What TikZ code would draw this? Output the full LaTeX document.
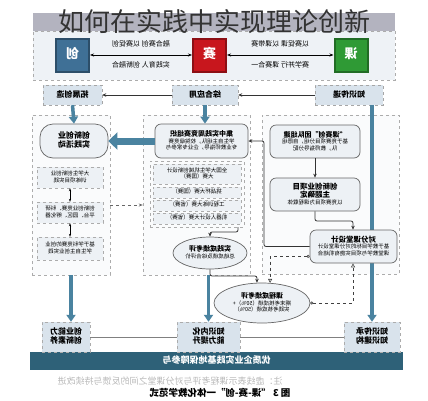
\documentclass[tikz,border=0pt]{standalone}
\usepackage{fontspec}
\setmainfont{Noto Sans CJK SC}
\usepackage{graphicx}
\usepackage{xcolor}
\usetikzlibrary{positioning,arrows.meta,shapes.geometric,calc}
\definecolor{tealA}{HTML}{4A83A0}
\definecolor{tealB}{HTML}{2E6178}
\definecolor{hdrfill}{HTML}{D9E3EC}
\definecolor{subfill}{HTML}{EDF1F5}
\definecolor{grpfill}{HTML}{FAFBFC}
\definecolor{topfill}{HTML}{EEF2F6}
\definecolor{sqblue}{HTML}{3F7096}
\definecolor{sqred}{HTML}{C8161D}
\definecolor{sqgreen}{HTML}{2F9A35}
\renewcommand{\arraystretch}{0.9}
% mirrored text, as the picture prints it
\newcommand{\mir}[1]{\reflectbox{\begin{tabular}{@{}c@{}}#1\end{tabular}}}
\tikzset{
  hdr/.style={draw=gray!70,dashed,fill=hdrfill,minimum height=20pt,inner sep=0pt,font=\fontsize{8}{9}\selectfont\bfseries},
  grp/.style={draw=gray!65,dashed,fill=grpfill,inner sep=0pt},
  pill/.style={draw=gray!80!black,fill=subfill,rounded corners=6pt,line width=0.7pt,inner sep=0pt,font=\fontsize{5.5}{6.5}\selectfont},
  sub/.style={draw=gray!65,dashed,fill=subfill,inner sep=0pt,font=\fontsize{5.5}{6.5}\selectfont},
  ell/.style={ellipse,draw=gray!80!black,fill=subfill,line width=0.7pt,inner sep=0pt,font=\fontsize{5.5}{6.5}\selectfont},
  sq/.style={minimum size=33pt,inner sep=0pt,line width=2pt,font=\fontsize{13}{13}\selectfont\bfseries,text=white},
  bot/.style={draw=gray!65,dashed,fill=hdrfill,minimum height=30pt,inner sep=0pt,font=\fontsize{8}{9.5}\selectfont\bfseries},
  conn/.style={draw=black!80,line width=0.8pt,rounded corners=2pt,-{Stealth[length=4pt,width=3.5pt]}},
  fb/.style={draw=black!75,dashed,line width=0.6pt,{Circle[open,length=3pt,width=3pt]}-{Triangle[open,length=4pt,width=4pt]}},
  tealarr/.style={draw=tealA,line width=3.5pt,-{Triangle[length=7pt,width=9pt]}},
}
\begin{document}
\begin{tikzpicture}[x=1pt,y=-1pt,>=Stealth]
  \useasboundingbox (0,0) rectangle (428,400);
  \fill[white] (0,0) rectangle (428,400);
  % top band
  \node[fill=gray!45!blue!15!gray!55,minimum width=362pt,minimum height=18pt,inner sep=0pt] (band) at (214,22) {};
  \node[draw=gray!65,dashed,fill=topfill,minimum width=362pt,minimum height=49pt,inner sep=0pt] (top) at (214,55.5) {};
  \node[font=\fontsize{26}{26}\selectfont,text=black!80] (title) at (214,22) {如何在实践中实现理论创新};
  \node[sq,fill=sqblue,draw=sqblue!70!black] (chuang) at (72.5,55) {\mir{创}};
  \node[sq,fill=sqred,draw=sqred!70!black] (sai) at (209.5,55) {\mir{赛}};
  \node[sq,fill=sqgreen,draw=sqgreen!70!black] (ke) at (351,55) {\mir{课}};
  \draw[{Stealth[length=4pt]}-{Stealth[length=4pt]},line width=0.8pt] (chuang) -- (sai)
    node[midway,above=3pt,font=\fontsize{7}{8}\selectfont] {\mir{融合赛创 以赛促创}}
    node[midway,below=3pt,font=\fontsize{7}{8}\selectfont] {\mir{实践育人 创新融合}};
  \draw[{Stealth[length=4pt]}-{Stealth[length=4pt]},line width=0.8pt] (sai) -- (ke)
    node[midway,above=3pt,font=\fontsize{7}{8}\selectfont] {\mir{以赛促课 以课带赛}}
    node[midway,below=3pt,font=\fontsize{7}{8}\selectfont] {\mir{赛学并行 课赛合一}};

  % column headers
  \node[hdr,minimum width=59pt] (hL) at (72.5,95) {\mir{拓展创造}};
  \node[hdr,minimum width=66pt] (hM) at (205,95) {\mir{综合应用}};
  \node[hdr,minimum width=68pt] (hR) at (349,95) {\mir{知识传递}};
  \draw[conn] (hR) -- (hM);
  \draw[conn] (hM) -- (hL);

  % column groups
  \node[grp,minimum width=78pt,minimum height=160pt] (grpL) at (71,195) {};
  \node[grp,minimum width=107pt,minimum height=160pt] (grpM) at (196.5,195) {};
  \node[grp,minimum width=137pt,minimum height=159pt] (grpR) at (330.5,194.5) {};

  % bottom row
  \node[fill=tealB,minimum width=373pt,minimum height=18pt,inner sep=0pt,text=white,font=\fontsize{9}{10}\selectfont\bfseries] (bar) at (216.5,361) {\mir{优质企业实践基地保障参与}};
  \node[bot,minimum width=48pt] (botL) at (66,337) {\mir{创业能力\\创新素养}};
  \node[bot,minimum width=63pt] (botM) at (208.5,337) {\mir{知识内化\\能力提升}};
  \node[bot,minimum width=56pt] (botR) at (372,337) {\mir{知识传承\\知识建构}};
  \draw[gray,line width=0.6pt] (botL) -- (botM);
  \draw[gray,line width=0.6pt] (botM) -- (botR);

  \draw[tealarr] (grpL.south) -- (grpL.south |- botL.north);
  \draw[tealarr] (botM.north |- grpM.south) -- (botM.north);
  \draw[tealarr] (hR.south -| botR.north) -- (botR.north);

  % left column
  \node[pill,rounded corners=13pt,minimum width=68pt,minimum height=34pt,font=\fontsize{8}{9.5}\selectfont\bfseries] (pillL) at (74,141) {\mir{创新创业\\实践活动}};
  \node[sub,minimum width=66pt,minimum height=21pt] (subL1) at (70,177.5) {\mir{大学生创新创业\\训练项目实践}};
  \node[sub,minimum width=66pt,minimum height=21pt] (subL2) at (70,212.5) {\mir{创新创业竞赛、科研\\平台、园区、孵化器}};
  \node[sub,minimum width=66pt,minimum height=23pt] (subL3) at (70,248.5) {\mir{基于学科竞赛的创业\\学生自主创业实践}};
  \draw[{Stealth[length=3pt]}-{Stealth[length=3pt]},line width=0.8pt] (subL1) -- (subL2);
  \draw[{Stealth[length=3pt]}-{Stealth[length=3pt]},line width=0.8pt] (subL2) -- (subL3);
  \draw[tealarr] (hL.south) -- (pillL.north);

  % middle column
  \node[pill,minimum width=93pt,minimum height=34pt] (pillM) at (201.5,141)
    {\mir{\fontsize{7}{8}\selectfont\bfseries 集中实践周竞赛组织\\学生自主组队，校院级竞赛\\专业教师指导，企业专家参与}};
  \node[grp,minimum width=94pt,minimum height=66pt] (subsM) at (197,194) {};
  \node[sub,minimum width=88pt,minimum height=20pt] (subM1) at (197,174) {\mir{全国大学生机械创新设计\\大赛（国赛）}};
  \node[sub,minimum width=88pt,minimum height=11pt] (subM2) at (197,192.5) {\mir{挑战杯大赛（国赛）}};
  \node[sub,minimum width=88pt,minimum height=11pt] (subM3) at (197,205.5) {\mir{工程训练大赛（省赛）}};
  \node[sub,minimum width=88pt,minimum height=11pt] (subM4) at (197,218.5) {\mir{机器人设计大赛（省赛）}};
  \node[ell,minimum width=74pt,minimum height=32pt] (ellM) at (210,253)
    {\mir{\fontsize{7}{8}\selectfont\bfseries 实践成绩考评\\总结成绩及综合评价}};
  \draw[tealarr] (hM.south) -- (hM.south |- pillM.north);
  \draw[draw=tealA,line width=7pt,-{Triangle[length=9pt,width=17pt]}] (pillM.west) -- (pillL.east);
  \draw[draw=gray!80!black,dashed,line width=0.8pt,-{Stealth[length=4pt]}] ($(grpL.east)+(0,10)$) -- ($(grpM.west)+(0,10)$);
  \coordinate (m1) at (238,232);
  \draw[conn] (subsM.south -| m1) -- (m1) -| (ellM.north);

  % right column
  \node[pill,minimum width=90pt,minimum height=33pt] (pillR1) at (315,141.5)
    {\mir{\fontsize{7}{8}\selectfont\bfseries “课赛创”团队组建\\基于竞赛项目分组，自愿组\\队，教师指导分配}};
  \node[pill,minimum width=90pt,minimum height=33pt] (pillR2) at (315,194.5)
    {\mir{\fontsize{7.5}{8.5}\selectfont\bfseries 创新创业项目\\\fontsize{7.5}{8.5}\selectfont\bfseries 主题确定\\以竞赛项目为课程载体}};
  \node[pill,minimum width=87pt,minimum height=33pt] (pillR3) at (353.5,246.5)
    {\mir{\fontsize{7.5}{8.5}\selectfont\bfseries 对分课堂设计\\基于教学目标的对分课堂设计\\课堂教学与项目实施有机结合}};
  \node[ell,minimum width=96pt,minimum height=40pt] (ellB) at (262,303)
    {\mir{\fontsize{7}{8}\selectfont\bfseries 课程成绩考评\\期末考核成绩（50\%）+\\实践考核成绩（50\%）}};
  \draw[conn] (pillR1) -- (pillR2);
  \coordinate (m3) at (353,221);
  \draw[conn] (pillR2.south) |- (m3) -- (m3 |- pillR3.north);
  \coordinate (kR) at (264,141);
  \draw[conn] (pillR3.west) -| (kR) -- (pillM.east);
  \coordinate (m2) at (0,276);
  \draw[conn] (ellM.south) |- (ellB.104 |- m2) -- (ellB.104);
  \draw[fb] ($(pillR3.south west)+(0,-7)$) -| (ellB.68);
  \draw[fb] (ellB.east) -| (m3 |- pillR3.south);

  % caption
  \node[text=gray!55,font=\fontsize{9}{10}\selectfont] (note) at (170,382) {\mir{注：虚线表示课程考评与对分课堂之间的反馈与持续改进}};
  \node[font=\fontsize{9.5}{10}\selectfont\bfseries] (cap) at (220,394) {\mir{图 3 “课-赛-创”一体化教学范式}};
\end{tikzpicture}
\end{document}
